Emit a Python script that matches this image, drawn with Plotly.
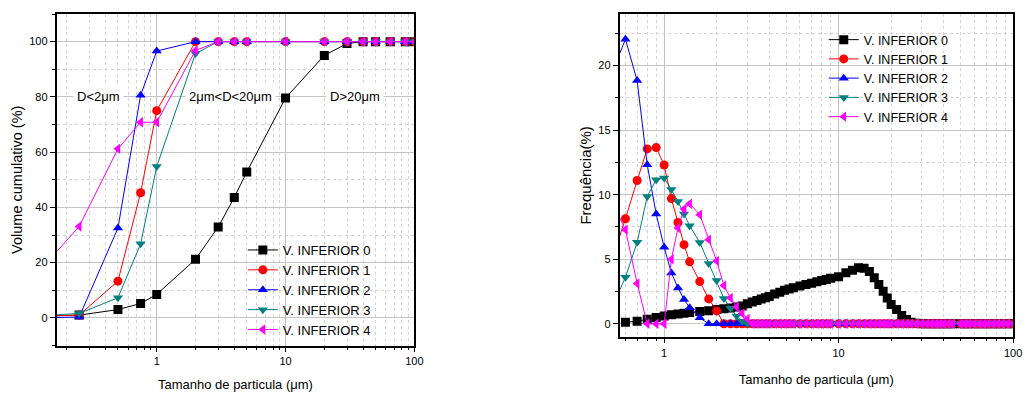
import math
import plotly.graph_objects as go

# ---------------- data: cumulative volume (left) ----------------
x_cum = [0.1, 0.25, 0.5, 0.75, 1, 2, 3, 4, 5, 10, 20, 30, 40, 50, 65, 85, 100]
cum_v0 = [0.5, 1.0, 3.0, 5.2, 8.5, 21.2, 32.9, 43.6, 52.8, 79.6, 95.0, 99.3, 100, 100, 100, 100, 100]
cum_v1 = [0.5, 1.0, 13.3, 45.3, 75.0, 100, 100, 100, 100, 100, 100, 100, 100, 100, 100, 100, 100]
cum_v2 = [0.0, 0.3, 32.5, 80.6, 96.6, 100, 100, 100, 100, 100, 100, 100, 100, 100, 100, 100, 100]
cum_v3 = [0.5, 1.6, 7.3, 26.8, 54.8, 95.7, 100, 100, 100, 100, 100, 100, 100, 100, 100, 100, 100]
cum_v4 = [12.3, 33.1, 61.2, 70.8, 70.8, 96.8, 100, 100, 100, 100, 100, 100, 100, 100, 100, 100, 100]

# ---------------- data: frequency (right) ----------------
x_freq = [0.5, 0.6, 0.7, 0.8, 0.9, 1.0, 1.1, 1.2, 1.3, 1.4,
          1.6, 1.8, 2.0, 2.2, 2.4, 2.6, 2.8, 3.0,
          3.2, 3.4, 3.6, 3.8, 4.0,
          4.3, 4.6, 4.9, 5.2, 5.5,
          6.0, 6.5, 7.0, 7.5, 8.0, 8.5, 9.0,
          10, 11, 12, 13, 14, 15, 16, 17, 18, 19, 20,
          21.5, 23, 24.5, 26, 28,
          30, 32, 34, 36, 38, 40,
          42.5, 45, 50, 53, 56, 60,
          64, 68, 72, 77, 82, 87, 93, 100]
freq_v0 = [None, 0.12, 0.2, 0.35, 0.48, 0.6, 0.7, 0.76, 0.82, 0.87,
           0.95, 1.02, 1.1, 1.17, 1.23, 1.3, 1.38, 1.55,
           1.68, 1.8, 1.92, 2.02, 2.12,
           2.3, 2.45, 2.6, 2.7, 2.8,
           2.92, 3.04, 3.15, 3.25, 3.35, 3.44, 3.52,
           3.65, 3.95, 4.15, 4.35, 4.3, 4.05, 3.56, 3.04, 2.52, 2.0, 1.5,
           1.1, 0.64, 0.33, 0.12, 0.04,
           0, 0, 0, 0, 0, 0,
           0, 0, 0, 0, 0, 0,
           0, 0, 0, 0, 0, 0, 0, 0]
freq_v1 = [4.9, 8.14, 11.1, 13.55, 13.65, 12.3, 9.7, 7.85, 6.13, 4.8,
           3.27, 1.93, 1.0, 0, 0, 0, 0, 0,
           0, 0, 0, 0, 0,
           0, 0, 0, 0, 0,
           0, 0, 0, 0, 0, 0, 0,
           0, 0, 0, 0, 0, 0, 0, 0, 0, 0, 0,
           0, 0, 0, 0, 0,
           0, 0, 0, 0, 0, 0,
           0, 0, 0, 0, 0, 0,
           0, 0, 0, 0, 0, 0, 0, 0]
freq_v2 = [19.4, 22.04, 18.84, 12.32, 8.5, 5.93, 3.94, 2.78, 1.88, 1.25,
           0.46, 0, 0, 0, 0, 0, 0, 0,
           0, 0, 0, 0, 0,
           0, 0, 0, 0, 0,
           0, 0, 0, 0, 0, 0, 0,
           0, 0, 0, 0, 0, 0, 0, 0, 0, 0, 0,
           0, 0, 0, 0, 0,
           0, 0, 0, 0, 0, 0,
           0, 0, 0, 0, 0, 0,
           0, 0, 0, 0, 0, 0, 0, 0]
freq_v3 = [1.2, 3.6, 6.31, 9.87, 11.16, 11.29, 10.4, 9.48, 8.5, 7.6,
           6.3, 4.68, 3.35, 1.95, 1.2, 0.6, 0.2, 0,
           0, 0, 0, 0, 0,
           0, 0, 0, 0, 0,
           0, 0, 0, 0, 0, 0, 0,
           0, 0, 0, 0, 0, 0, 0, 0, 0, 0, 0,
           0, 0, 0, 0, 0,
           0, 0, 0, 0, 0, 0,
           0, 0, 0, 0, 0, 0,
           0, 0, 0, 0, 0, 0, 0, 0]
freq_v4 = [9.5, 7.29, 3.12, 0, 0, 0, 5.0, 7.42, 8.89, 9.3,
           8.45, 6.52, 4.87, 2.96, 2.0, 1.3, 0.8, 0.38,
           0, 0, 0, 0, 0,
           0, 0, 0, 0, 0,
           0, 0, 0, 0, 0, 0, 0,
           0, 0, 0, 0, 0, 0, 0, 0, 0, 0, 0,
           0, 0, 0, 0, 0,
           0, 0, 0, 0, 0, 0,
           0, 0, 0, 0, 0, 0,
           0, 0, 0, 0, 0, 0, 0, 0]

names = ["V. INFERIOR 0", "V. INFERIOR 1", "V. INFERIOR 2", "V. INFERIOR 3", "V. INFERIOR 4"]
colors = ["#000000", "#FF0000", "#0000FF", "#008080", "#FF00FF"]
symbols = ["square", "circle", "triangle-up", "triangle-down", "triangle-left"]
cum_series = [cum_v0, cum_v1, cum_v2, cum_v3, cum_v4]
freq_series = [freq_v0, freq_v1, freq_v2, freq_v3, freq_v4]

x_major_ticks = [1, 10, 100]
x_minor_ticks = [0.2, 0.3, 0.4, 0.5, 0.6, 0.7, 0.8, 0.9,
                 2, 3, 4, 5, 6, 7, 8, 9,
                 20, 30, 40, 50, 60, 70, 80, 90]

FONT = "Liberation Sans, Arial, sans-serif"
W, H = 1032, 394

fig = go.Figure()

for i in range(5):
    fig.add_trace(go.Scatter(
        x=x_cum, y=cum_series[i], name=names[i], mode="lines+markers",
        line=dict(color=colors[i], width=1),
        marker=dict(symbol=symbols[i], size=9, color=colors[i]),
        xaxis="x", yaxis="y", legend="legend",
    ))
for i in range(5):
    fig.add_trace(go.Scatter(
        x=x_freq, y=freq_series[i], name=names[i], mode="lines+markers",
        line=dict(color=colors[i], width=1),
        marker=dict(symbol=symbols[i], size=9, color=colors[i]),
        xaxis="x2", yaxis="y2", legend="legend2",
    ))


def px_x(p):
    return p / W


def px_y(p):
    return 1 - p / H


GRID = "#c4c4c4"
MGRID = "#d4d4d4"

common_x = dict(
    type="log", showline=True, linecolor="black", linewidth=1.5, mirror=True,
    ticks="outside", ticklen=5, tickwidth=1, tickcolor="black",
    tickmode="array", tickvals=x_major_ticks, ticktext=["1", "10", "100"],
    showgrid=True, gridcolor=GRID, gridwidth=1,
    minor=dict(tickmode="array", tickvals=x_minor_ticks, ticks="outside", ticklen=3,
               tickcolor="black", showgrid=True, gridcolor=MGRID, griddash="dot", gridwidth=1),
    tickfont=dict(family=FONT, size=11, color="black"),
    zeroline=False,
)
common_y = dict(
    showline=True, linecolor="black", linewidth=1.5, mirror=True,
    ticks="outside", ticklen=5, tickcolor="black",
    showgrid=True, gridcolor=GRID, gridwidth=1, zeroline=False,
    tickfont=dict(family=FONT, size=11, color="black"),
)
fig.update_layout(
    width=W, height=H, margin=dict(l=0, r=0, t=0, b=0),
    paper_bgcolor="white", plot_bgcolor="white",
    font=dict(family=FONT, size=13, color="black"),
    xaxis=dict(common_x, domain=[px_x(57), px_x(418)], anchor="y",
               range=[-0.778, 2.0],
               title=dict(text="Tamanho de particula (μm)", font=dict(family=FONT, size=13), standoff=13)),
    yaxis=dict(common_y, domain=[px_y(345.5), px_y(14)], anchor="x", range=[-10, 110],
               tick0=0, dtick=20,
               minor=dict(dtick=10, ticks="outside", ticklen=3, tickcolor="black", showgrid=True,
                          gridcolor=MGRID, griddash="dot"),
               title=dict(text="Volume cumulativo (%)", font=dict(family=FONT, size=14.5), standoff=3)),
    xaxis2=dict(common_x, domain=[px_x(625), px_x(1022)], anchor="y2",
                range=[-0.2557, 2.0],
                title=dict(text="Tamanho de particula (μm)", font=dict(family=FONT, size=13), standoff=17)),
    yaxis2=dict(common_y, domain=[px_y(336.7), px_y(14)], anchor="x2", range=[-1, 24],
                tick0=0, dtick=5,
                minor=dict(dtick=2.5, ticks="outside", ticklen=3, tickcolor="black", showgrid=True,
                           gridcolor=MGRID, griddash="dot"),
                title=dict(text="Frequência(%)", font=dict(family=FONT, size=15), standoff=3)),
    # decorative tick-only mirror axes (top/right)
    xaxis3=dict(overlaying="x", anchor="y", side="top", range=[-0.277, 10.037],
                tickmode="linear", tick0=0, dtick=1, ticks="inside", ticklen=4,
                tickcolor="black", showticklabels=False, showgrid=False, showline=False,
                zeroline=False),
    yaxis3=dict(overlaying="y", anchor="x", side="right", range=[0, 10],
                tickmode="array", tickvals=[1, 2, 3, 4, 5, 6, 7, 8], ticks="inside", ticklen=5,
                tickcolor="black", showticklabels=False, showgrid=False, showline=False,
                zeroline=False),
    yaxis4=dict(overlaying="y2", anchor="x2", side="right", range=[-0.02, 9.94],
                tickmode="array", tickvals=[1, 2, 3, 4, 5, 6, 7, 8, 9], ticks="inside", ticklen=5,
                tickcolor="black", showticklabels=False, showgrid=False, showline=False,
                zeroline=False),
    legend=dict(x=px_x(245), y=px_y(235), xanchor="left", yanchor="top",
                bgcolor="rgba(0,0,0,0)", borderwidth=0,
                font=dict(family=FONT, size=13, color="black"), itemwidth=30),
    legend2=dict(x=px_x(831), y=px_y(25), xanchor="left", yanchor="top",
                 bgcolor="rgba(0,0,0,0)", borderwidth=0,
                 font=dict(family=FONT, size=12.5, color="black"), itemwidth=30),
    showlegend=True,
)

ann_font = dict(family=FONT, size=13, color="black")
for txt, xv in [("D<2μm", 0.355), ("2μm<D<20μm", 3.77), ("D>20μm", 34.7)]:
    fig.add_annotation(x=math.log10(xv), y=80, xref="x", yref="y", text=txt,
                       showarrow=False, font=ann_font, bgcolor="white", borderpad=3)

fig.write_html("out.html")
